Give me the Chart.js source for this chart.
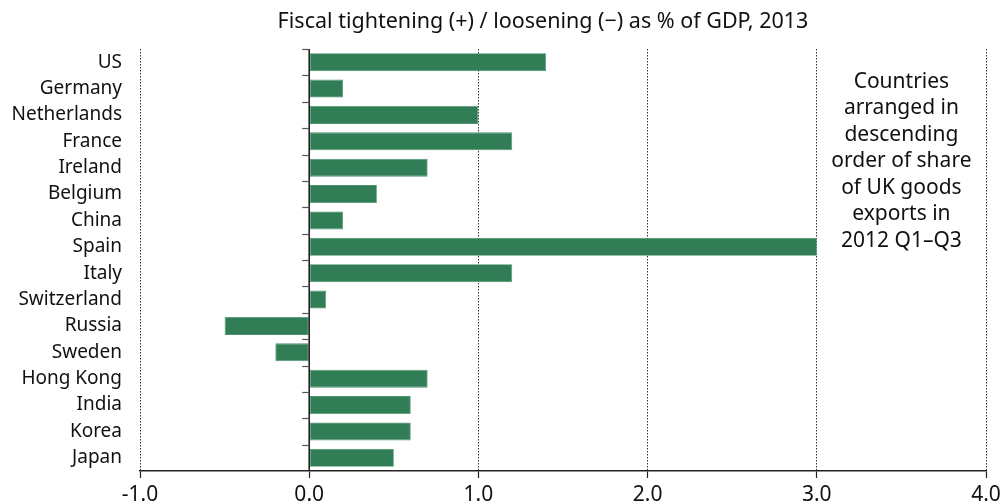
<!DOCTYPE html>
<html>
<head>
<meta charset="utf-8">
<script src="https://cdn.jsdelivr.net/npm/chart.js@4/dist/chart.umd.min.js"></script>
<style>
  html, body { margin: 0; padding: 0; background: #fff; }
  #wrap { width: 1003px; height: 504px; position: relative; }
</style>
</head>
<body>
<div id="wrap"><canvas id="c"></canvas></div>
<script>
const countries = ["US","Germany","Netherlands","France","Ireland","Belgium","China","Spain","Italy","Switzerland","Russia","Sweden","Hong Kong","India","Korea","Japan"];
const fiscalChange = [1.4, 0.2, 1.0, 1.2, 0.7, 0.4, 0.2, 3.0, 1.2, 0.1, -0.5, -0.2, 0.7, 0.6, 0.6, 0.5];
const xTicks = [-1, 0, 1, 2, 3, 4];
const titleText = "Fiscal tightening (+) / loosening (\u2212) as % of GDP, 2013";
const noteLines = ["Countries", "arranged in", "descending", "order of share", "of UK goods", "exports in", "2012 Q1\u2013Q3"];

const FONT = "'Noto Sans', 'Open Sans', sans-serif";
const INK = "#111111";

const overlay = {
  id: "overlay",
  afterDatasetsDraw(chart) {
    const ctx = chart.ctx;
    const xs = chart.scales.x, ys = chart.scales.y;
    const area = chart.chartArea;
    const x0 = xs.getPixelForValue(0);
    ctx.save();
    // title
    ctx.fillStyle = INK;
    ctx.font = "21.5px " + FONT;
    ctx.textAlign = "center";
    ctx.textBaseline = "middle";
    ctx.fillText(titleText, 543, 22);
    // zero axis line
    ctx.strokeStyle = "#222";
    ctx.lineWidth = 1.6;
    ctx.beginPath();
    ctx.moveTo(x0, area.top);
    ctx.lineTo(x0, area.bottom);
    ctx.stroke();
    // category boundary ticks on zero axis
    ctx.strokeStyle = "#555";
    ctx.lineWidth = 1.2;
    for (let i = 0; i < countries.length; i++) {
      const y = Math.round(ys.getPixelForValue(i - 0.5)) + 0.5;
      ctx.beginPath();
      ctx.moveTo(x0 - 7, y);
      ctx.lineTo(x0, y);
      ctx.stroke();
    }
    // note text
    ctx.fillStyle = INK;
    ctx.font = "21px " + FONT;
    ctx.textAlign = "center";
    ctx.textBaseline = "middle";
    const cx = xs.getPixelForValue(3.5);
    noteLines.forEach((t, i) => {
      ctx.fillText(t, cx, area.top + 33 + i * 26.5);
    });
    ctx.restore();
  }
};

new Chart(document.getElementById("c"), {
  type: "bar",
  data: {
    labels: countries,
    datasets: [{
      data: fiscalChange,
      backgroundColor: "#317d55",
      borderColor: "#4f9470",
      borderWidth: 0.8,
      borderSkipped: false,
      categoryPercentage: 1.0,
      barPercentage: 0.68
    }]
  },
  options: {
    indexAxis: "y",
    responsive: true,
    maintainAspectRatio: false,
    animation: false,
    devicePixelRatio: 1,
    layout: { padding: { left: 0, right: 17, top: 49, bottom: 0 } },
    plugins: {
      legend: { display: false },
      tooltip: { enabled: false },
      title: { display: false }
    },
    scales: {
      x: {
        type: "linear",
        min: -1,
        max: 4,
        afterBuildTicks: (s) => { s.ticks = xTicks.map(v => ({ value: v })); },
        afterFit: (s) => { s.height = 33; s.paddingRight = 0; s.paddingLeft = 0; },
        ticks: {
          color: INK,
          font: { family: FONT, size: 21 },
          padding: 4,
          callback: (v) => Number(v).toFixed(1)
        },
        grid: {
          color: (c) => (c.tick && c.tick.value === 0) ? "rgba(0,0,0,0)" : "#333",
          lineWidth: 1,
          drawTicks: true,
          tickLength: 7,
          tickColor: "#222",
          tickWidth: 1.2,
          tickBorderDash: []
        },
        border: { display: true, color: "#222", width: 1.5, dash: [1.5, 1.5] }
      },
      y: {
        type: "category",
        afterFit: (s) => { s.width = 140; },
        ticks: {
          color: INK,
          font: { family: FONT, size: 19 },
          padding: 18,
          autoSkip: false
        },
        grid: { display: false, drawTicks: false },
        border: { display: false }
      }
    }
  },
  plugins: [overlay]
});
</script>
</body>
</html>
